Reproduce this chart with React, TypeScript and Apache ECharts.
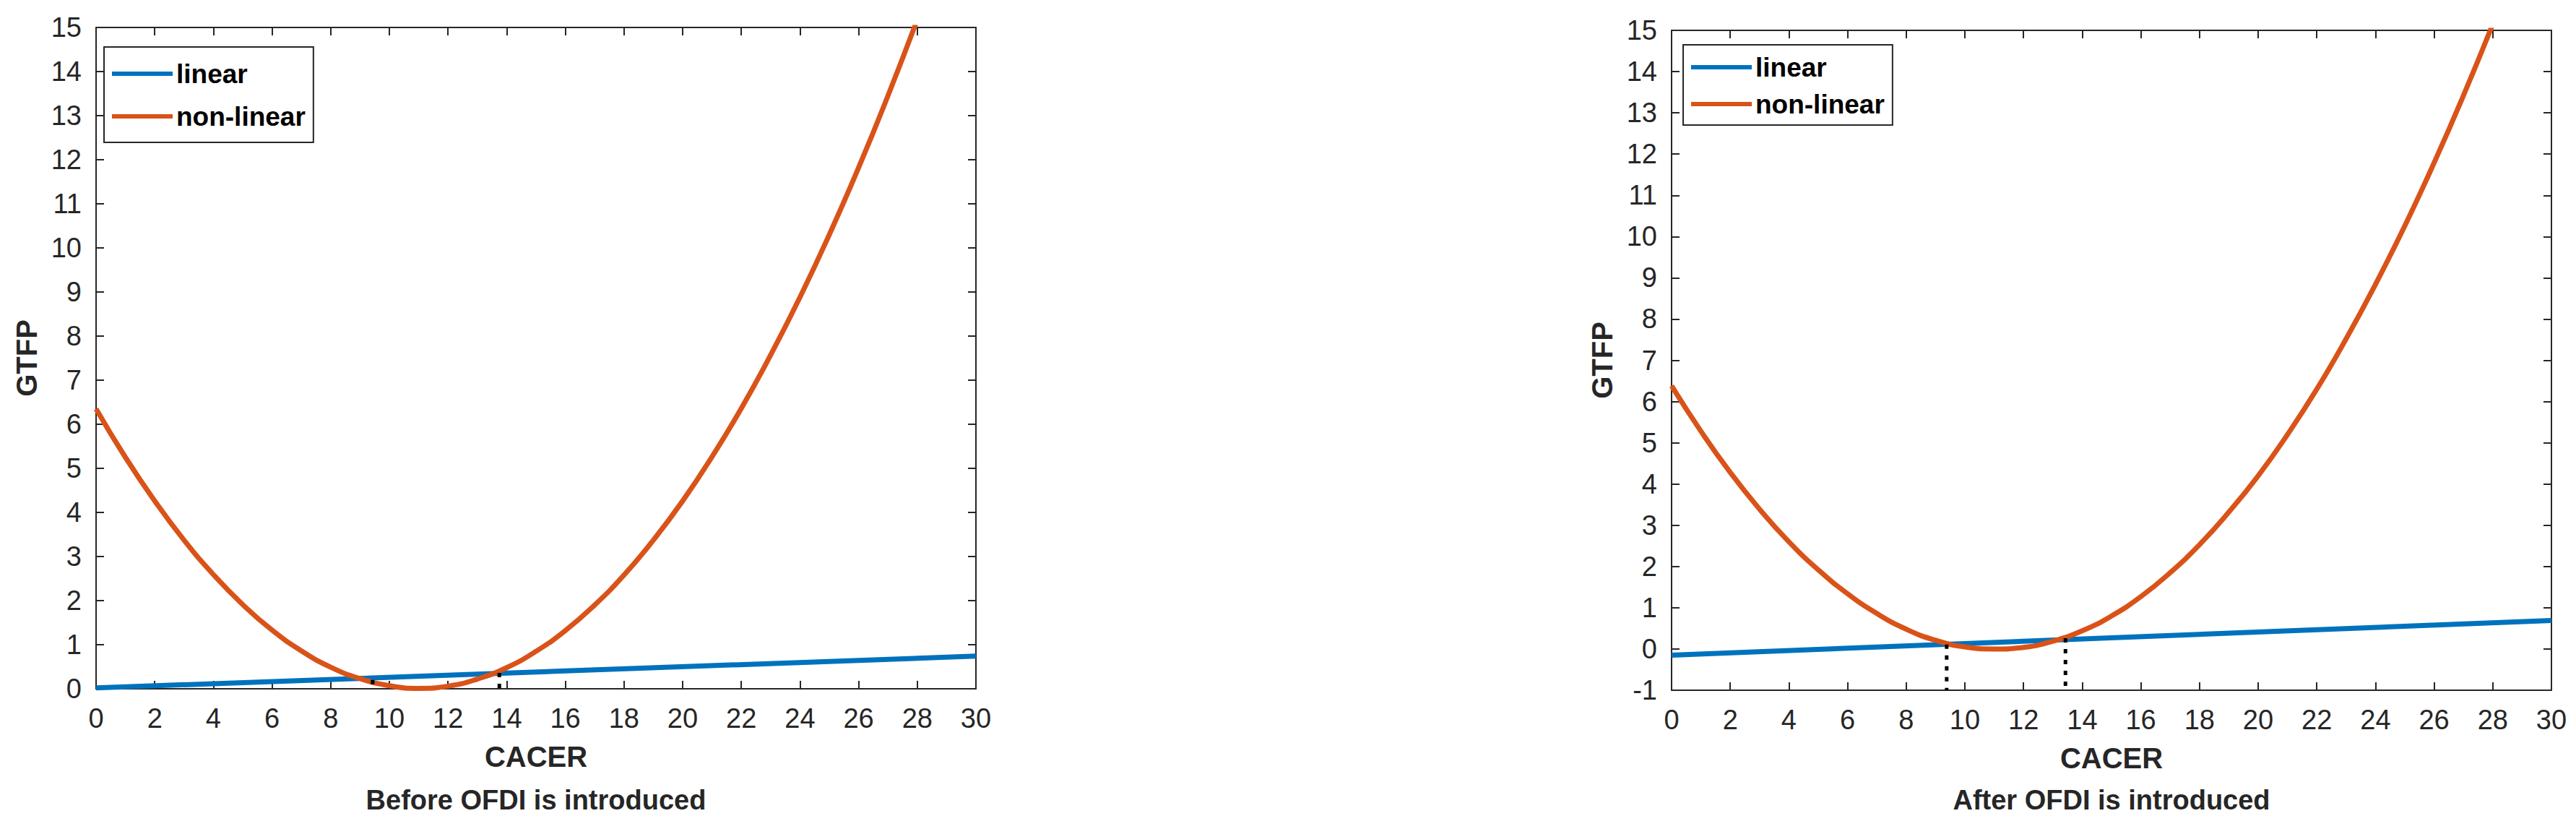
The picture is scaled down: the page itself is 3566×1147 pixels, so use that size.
import React, { useEffect, useRef } from "react";
import * as echarts from "echarts";

// ---- data ----
const CACER_POINTS = [0, 1, 2, 3, 4, 5, 6, 7, 8, 9, 10, 11, 12, 13, 14, 15, 16, 17, 18, 19, 20, 21, 22, 23, 24, 25, 26, 27, 28];
const BEFORE_NONLINEAR = [6.35, 5.25, 4.26, 3.37, 2.59, 1.91, 1.33, 0.86, 0.49, 0.23, 0.07, 0.01, 0.06, 0.22, 0.48, 0.85, 1.32, 1.9, 2.58, 3.37, 4.26, 5.26, 6.36, 7.57, 8.88, 10.3, 11.82, 13.45, 15.18];
const AFTER_NONLINEAR = [6.38, 5.28, 4.28, 3.39, 2.6, 1.92, 1.34, 0.86, 0.48, 0.21, 0.05, 0.0, 0.04, 0.19, 0.44, 0.8, 1.27, 1.85, 2.53, 3.32, 4.2, 5.2, 6.3, 7.52, 8.84, 10.26, 11.79, 13.42, 15.15];
const CACER_LINEAR = [0, 30];
const BEFORE_LINEAR = [0.02, 0.74];
const AFTER_LINEAR = [-0.15, 0.69];
const BEFORE_CROSS_X = [9.43, 13.75];
const BEFORE_CROSS_Y = [0.2, 0.36];
const AFTER_CROSS_X = [9.38, 13.43];
const AFTER_CROSS_Y = [0.11, 0.26];
const X_RANGE = [0, 30];
const X_STEP = 2;
const BEFORE_Y_RANGE = [0, 15];
const AFTER_Y_RANGE = [-1, 15];
const Y_STEP = 1;
const LEGEND_NAMES = ["linear", "non-linear"];
const SUBTITLES = ["Before OFDI is introduced", "After OFDI is introduced"];
const X_NAME = "CACER";
const Y_NAME = "GTFP";

const BLUE = "#0072BD";
const ORANGE = "#D95319";
const AXIS = "#262626";
const FONT = "'Liberation Sans', Arial, Helvetica, sans-serif";

const zip = (xs: number[], ys: number[]) => xs.map((x, i) => [x, ys[i]]);

export default function App() {
  const ref = useRef<HTMLDivElement>(null);
  useEffect(() => {
    if (!ref.current) return;
    const chart = echarts.init(ref.current, null, { renderer: "svg" });

    const grids = [
      { left: 133, top: 38, width: 1218, height: 915 },
      { left: 2314, top: 42, width: 1218, height: 913 },
    ];
    const yRanges = [BEFORE_Y_RANGE, AFTER_Y_RANGE];

    const xAxes: any[] = [];
    const yAxes: any[] = [];
    grids.forEach((_, g) => {
      const common = {
        gridIndex: g,
        type: "value",
        min: X_RANGE[0],
        max: X_RANGE[1],
        interval: X_STEP,
        splitLine: { show: false },
        axisLine: { show: true, onZero: false, lineStyle: { color: AXIS, width: 2 } },
        axisTick: { show: true, inside: true, length: 11, lineStyle: { color: AXIS, width: 2 } },
      };
      xAxes.push({
        ...common,
        position: "bottom",
        name: X_NAME,
        nameLocation: "middle",
        nameGap: 74,
        nameTextStyle: { fontFamily: FONT, fontSize: 40, fontWeight: "bold", color: AXIS },
        axisLabel: { show: true, margin: 22, fontFamily: FONT, fontSize: 38, color: AXIS },
      });
      xAxes.push({ ...common, position: "top", axisLabel: { show: false } });
      const ycommon = {
        gridIndex: g,
        type: "value",
        min: yRanges[g][0],
        max: yRanges[g][1],
        interval: Y_STEP,
        splitLine: { show: false },
        axisLine: { show: true, onZero: false, lineStyle: { color: AXIS, width: 2 } },
        axisTick: { show: true, inside: true, length: 11, lineStyle: { color: AXIS, width: 2 } },
      };
      yAxes.push({
        ...ycommon,
        position: "left",
        name: Y_NAME,
        nameLocation: "middle",
        nameGap: 76,
        nameRotate: 90,
        nameTextStyle: { fontFamily: FONT, fontSize: 40, fontWeight: "bold", color: AXIS },
        axisLabel: { show: true, margin: 20, fontFamily: FONT, fontSize: 38, color: AXIS },
      });
      yAxes.push({ ...ycommon, position: "right", axisLabel: { show: false } });
    });

    const lin = [BEFORE_LINEAR, AFTER_LINEAR];
    const nonlin = [BEFORE_NONLINEAR, AFTER_NONLINEAR];
    const crossX = [BEFORE_CROSS_X, AFTER_CROSS_X];
    const crossY = [BEFORE_CROSS_Y, AFTER_CROSS_Y];

    const series: any[] = [];
    grids.forEach((_, g) => {
      series.push({
        name: LEGEND_NAMES[0],
        type: "line",
        xAxisIndex: g * 2,
        yAxisIndex: g * 2,
        data: zip(CACER_LINEAR, lin[g]),
        showSymbol: false,
        color: BLUE,
        lineStyle: { color: BLUE, width: 7 },
        clip: true,
        z: 2,
      });
      series.push({
        name: LEGEND_NAMES[1],
        type: "line",
        xAxisIndex: g * 2,
        yAxisIndex: g * 2,
        data: zip(CACER_POINTS, nonlin[g]),
        showSymbol: false,
        smooth: true,
        color: ORANGE,
        lineStyle: { color: ORANGE, width: 7 },
        clip: true,
        z: 3,
      });
      crossX[g].forEach((cx, i) => {
        series.push({
          name: "threshold" + g + i,
          type: "line",
          xAxisIndex: g * 2,
          yAxisIndex: g * 2,
          data: [
            [cx, crossY[g][i]],
            [cx, yRanges[g][0]],
          ],
          showSymbol: false,
          color: "#000",
          lineStyle: { color: "#000", width: 5, type: [6, 9], cap: "butt" },
          clip: true,
          z: 4,
        });
      });
    });

    const legendCommon = {
      orient: "vertical",
      data: LEGEND_NAMES,
      icon: "rect",
      itemWidth: 84,
      itemHeight: 6,
      itemGap: 15,
      itemStyle: { borderWidth: 0 },
      textStyle: { fontFamily: FONT, fontSize: 37, fontWeight: "bold", color: "#000", lineHeight: 44 },
      borderColor: AXIS,
      borderWidth: 2,
      backgroundColor: "#fff",
      selectedMode: false,
    };

    chart.setOption({
      animation: false,
      backgroundColor: "#fff",
      grid: grids,
      xAxis: xAxes,
      yAxis: yAxes,
      legend: [
        { ...legendCommon, left: 144, top: 65, padding: [15, 11, 14, 11] },
        { ...legendCommon, left: 2330, top: 62, itemGap: 7, padding: [9, 11, 7, 11] },
      ],
      series,
      graphic: [
        {
          type: "text",
          x: 742,
          y: 1107,
          style: { text: SUBTITLES[0], fontFamily: FONT, fontSize: 38, fontWeight: "bold", fill: AXIS, textAlign: "center", textVerticalAlign: "middle" },
        },
        {
          type: "text",
          x: 2923,
          y: 1107,
          style: { text: SUBTITLES[1], fontFamily: FONT, fontSize: 38, fontWeight: "bold", fill: AXIS, textAlign: "center", textVerticalAlign: "middle" },
        },
      ],
    });
    return () => chart.dispose();
  }, []);

  return <div ref={ref} style={{ position: "absolute", left: 0, top: 0, width: 3566, height: 1147 }} />;
}
